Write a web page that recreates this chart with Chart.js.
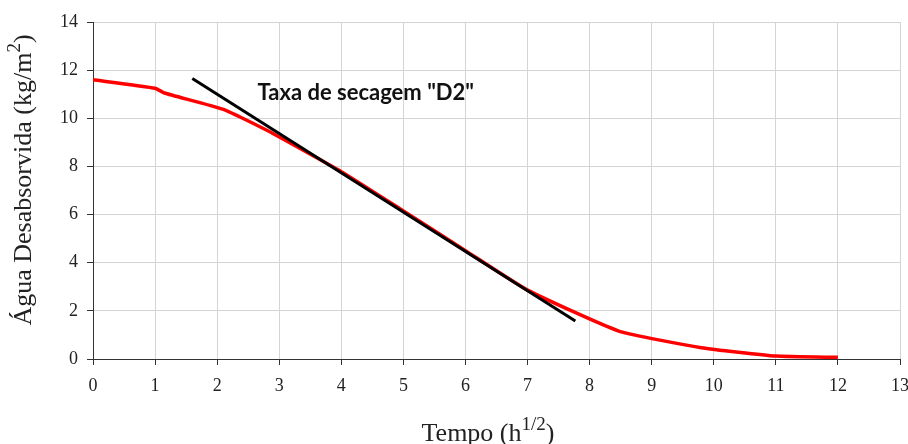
<!DOCTYPE html>
<html>
<head>
<meta charset="utf-8">
<script src="https://cdn.jsdelivr.net/npm/chart.js@4"></script>
<style>
  html, body { margin: 0; padding: 0; background: #fff; }
  #wrap { width: 908px; height: 444px; position: relative; }
</style>
</head>
<body>
<div id="wrap"><canvas id="grafico"></canvas></div>
<script>
// dados
const tempo = [0, 1, 1.15, 2.1, 2.8, 4, 5, 6, 7, 8.47, 9.8, 11, 12];
const aguaDesabs = [11.6, 11.25, 11.05, 10.37, 9.5, 7.78, 6.15, 4.5, 2.86, 1.16, 0.47, 0.12, 0.07];

// reta da taxa de secagem D2
const retaX = [1.6, 7.77];
const retaY = [11.65, 1.58];

const xTicks = [0, 1, 2, 3, 4, 5, 6, 7, 8, 9, 10, 11, 12, 13];
const yTicks = [0, 2, 4, 6, 8, 10, 12, 14];

const rotulo = 'Taxa de secagem "D2"';
const rotuloPos = { x: 2.65, y: 11.05 };

const serif = '"Liberation Serif", "DejaVu Serif", serif';

// escreve texto com expoente, centrado em x
function textoExpoente(ctx, partes, cx, yb) {
    const big = '26px ' + serif, small = '19px ' + serif;
    const larg = partes.map((p, i) => {
        ctx.font = i === 1 ? small : big;
        return ctx.measureText(p).width;
    });
    let x = cx - (larg[0] + larg[1] + larg[2]) / 2;
    partes.forEach((p, i) => {
        ctx.font = i === 1 ? small : big;
        ctx.fillText(p, x, i === 1 ? yb - 11 : yb);
        x += larg[i];
    });
}

const titulos = {
    id: 'titulos',
    afterDraw(chart) {
        const ctx = chart.ctx;
        const area = chart.chartArea;
        ctx.save();
        ctx.fillStyle = '#222';
        ctx.textAlign = 'left';
        ctx.textBaseline = 'alphabetic';

        // eixo x
        textoExpoente(ctx, ['Tempo (h', '1/2', ')'], 488, 441);

        // eixo y
        ctx.translate(31, 180);
        ctx.rotate(-Math.PI / 2);
        textoExpoente(ctx, ['Água Desabsorvida (kg/m', '2', ')'], 0, 0);
        ctx.restore();

        // rotulo da reta
        const sx = chart.scales.x, sy = chart.scales.y;
        ctx.save();
        ctx.font = 'bold 22px Lato, "Open Sans", sans-serif';
        ctx.fillStyle = '#111';
        ctx.textAlign = 'left';
        ctx.textBaseline = 'middle';
        ctx.fillText(rotulo, sx.getPixelForValue(rotuloPos.x), sy.getPixelForValue(rotuloPos.y));
        ctx.restore();
    }
};

new Chart(document.getElementById('grafico'), {
    type: 'scatter',
    data: {
        datasets: [
            {
                data: tempo.map((t, i) => ({ x: t, y: aguaDesabs[i] })),
                showLine: true,
                borderColor: '#ff0000',
                borderWidth: 3.5,
                pointRadius: 0,
                tension: 0.15,
                order: 2
            },
            {
                data: retaX.map((t, i) => ({ x: t, y: retaY[i] })),
                showLine: true,
                borderColor: '#000',
                borderWidth: 3,
                pointRadius: 0,
                order: 1
            }
        ]
    },
    options: {
        responsive: true,
        maintainAspectRatio: false,
        animation: false,
        layout: { padding: { top: 22, right: 0, left: 0, bottom: 0 } },
        plugins: { legend: { display: false }, tooltip: { enabled: false } },
        scales: {
            x: {
                type: 'linear', min: 0, max: 13,
                afterBuildTicks: s => { s.ticks = xTicks.map(v => ({ value: v })); },
                afterFit: s => { s.height = 85; s.paddingRight = 8; },
                grid: { color: '#d4d4d4', lineWidth: 1, tickLength: 6, tickColor: '#333' },
                border: { color: '#333', width: 1 },
                ticks: { color: '#222', font: { family: serif, size: 18 }, padding: 10, maxRotation: 0 }
            },
            y: {
                type: 'linear', min: 0, max: 14,
                afterBuildTicks: s => { s.ticks = yTicks.map(v => ({ value: v })); },
                afterFit: s => { s.width = 93; },
                grid: { color: '#d4d4d4', lineWidth: 1, tickLength: 6, tickColor: '#333' },
                border: { color: '#333', width: 1 },
                ticks: { color: '#222', font: { family: serif, size: 18 }, padding: 9 }
            }
        }
    },
    plugins: [titulos]
});
</script>
</body>
</html>
